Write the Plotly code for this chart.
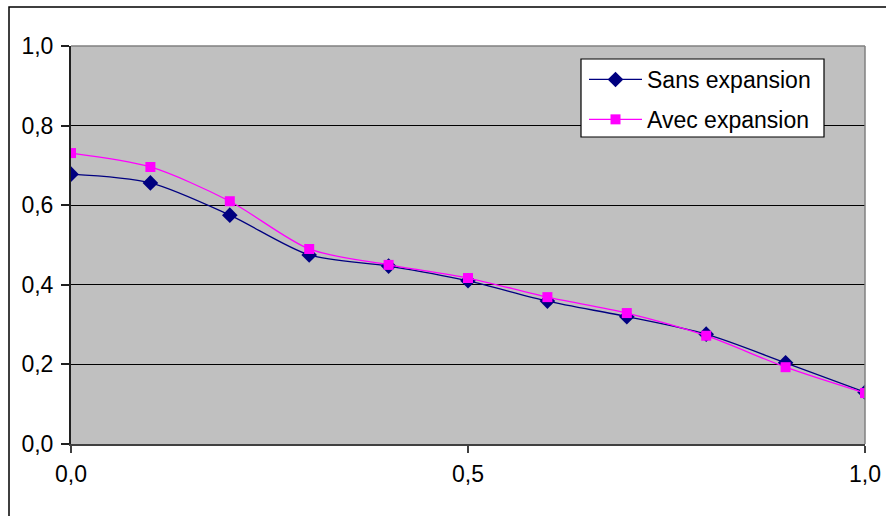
import plotly.graph_objects as go

x_vals = [0.0, 0.1, 0.2, 0.3, 0.4, 0.5, 0.6, 0.7, 0.8, 0.9, 1.0]
sans_expansion = [0.678, 0.656, 0.575, 0.475, 0.447, 0.410, 0.359, 0.320, 0.276, 0.204, 0.130]
avec_expansion = [0.731, 0.696, 0.610, 0.490, 0.450, 0.417, 0.369, 0.329, 0.272, 0.193, 0.128]
y_ticks = [0.0, 0.2, 0.4, 0.6, 0.8, 1.0]
x_ticks = [0.0, 0.5, 1.0]

W, H = 886, 516
ml, mr, mt, mb = 71, 21, 46, 72
pw, ph = W - ml - mr, H - mt - mb

FONT = "Liberation Sans, Arial, sans-serif"
font = dict(family=FONT, size=23, color="black")

def px_x(p):
    return (p - ml) / pw

def px_y(p):
    return 1 - (p - mt) / ph

fig = go.Figure()
fig.add_trace(go.Scatter(
    x=x_vals, y=sans_expansion, name="Sans expansion", mode="lines+markers",
    line=dict(color="#000080", width=1.3, shape="spline", smoothing=0.8),
    marker=dict(symbol="diamond", size=12, color="#000080"),
    legendgroup="a",
))
fig.add_trace(go.Scatter(
    x=x_vals, y=avec_expansion, name="Avec expansion", mode="lines+markers",
    line=dict(color="#FF00FF", width=1.3, shape="spline", smoothing=0.8),
    marker=dict(symbol="square", size=10, color="#FF00FF"),
    legendgroup="b",
))

# outer chart border
fig.add_shape(type="rect", xref="paper", yref="paper",
              x0=px_x(9), x1=1.2, y0=-0.4, y1=px_y(7),
              line=dict(color="black", width=1.5), layer="below")
# right / top border of plot area (gray)
fig.add_shape(type="line", xref="paper", yref="paper", x0=1, x1=1, y0=0, y1=1,
              line=dict(color="#808080", width=1.5))
fig.add_shape(type="line", xref="paper", yref="paper", x0=0, x1=1, y0=1, y1=1,
              line=dict(color="#808080", width=1.5))
# legend box
fig.add_shape(type="rect", xref="paper", yref="paper",
              x0=px_x(581), x1=px_x(824), y0=px_y(137), y1=px_y(59),
              line=dict(color="black", width=1.2), fillcolor="white", layer="above")

fig.update_layout(
    width=W, height=H,
    margin=dict(l=ml, r=mr, t=mt, b=mb, autoexpand=False),
    paper_bgcolor="white", plot_bgcolor="#C0C0C0",
    font=font,
    separators=",.",
    showlegend=True,
    legend=dict(
        x=px_x(584), y=px_y(58), xanchor="left", yanchor="top",
        bgcolor="rgba(0,0,0,0)", borderwidth=0,
        font=dict(family=FONT, size=23, color="black"),
        traceorder="grouped", tracegroupgap=7, itemwidth=53,
    ),
    xaxis=dict(
        range=[0, 1], tickvals=x_ticks, tickformat=".1f",
        showgrid=False, zeroline=False, automargin=False,
        showline=True, linecolor="#404040", linewidth=2,
        ticks="outside", ticklen=7, tickcolor="#404040", tickwidth=1.5,
        ticklabelstandoff=1,
        fixedrange=True,
    ),
    yaxis=dict(
        range=[0, 1], tickvals=y_ticks, tickformat=".1f",
        showgrid=True, gridcolor="black", gridwidth=1,
        zeroline=False, automargin=False,
        showline=True, linecolor="#202020", linewidth=2,
        ticks="outside", ticklen=8, tickcolor="#202020", tickwidth=1.5,
        ticklabelstandoff=3,
        fixedrange=True,
    ),
)

fig.write_html("out.html", config={"displayModeBar": False},
               post_script="document.body.style.margin='0px';document.body.style.overflow='hidden';")
